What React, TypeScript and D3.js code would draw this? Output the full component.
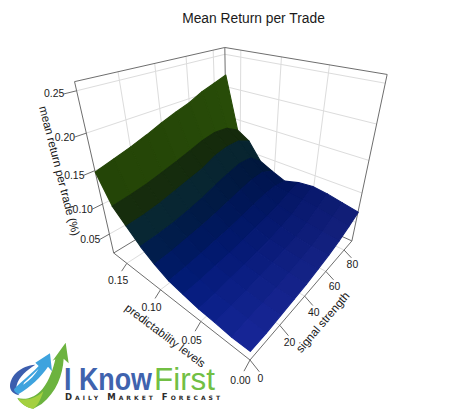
import React from "react";
import * as d3 from "d3";

const title = "Mean Return per Trade";
const predLevels = [0, 0.0172, 0.0344, 0.0516, 0.0688, 0.086, 0.1032, 0.1204, 0.1376, 0.1548, 0.172];
const signalLevels = [0, 10, 20, 30, 40, 50, 60, 70, 80, 90];
const returns = [
  [0.030, 0.030, 0.032, 0.034, 0.036, 0.040, 0.044, 0.050, 0.058, 0.067],
  [0.030, 0.032, 0.033, 0.035, 0.038, 0.041, 0.045, 0.052, 0.062, 0.072],
  [0.033, 0.034, 0.035, 0.038, 0.040, 0.044, 0.047, 0.055, 0.066, 0.077],
  [0.035, 0.036, 0.039, 0.041, 0.044, 0.047, 0.052, 0.058, 0.069, 0.080],
  [0.040, 0.041, 0.044, 0.046, 0.050, 0.054, 0.058, 0.063, 0.071, 0.077],
  [0.045, 0.047, 0.050, 0.054, 0.057, 0.062, 0.067, 0.072, 0.074, 0.070],
  [0.056, 0.058, 0.062, 0.066, 0.071, 0.077, 0.083, 0.088, 0.089, 0.079],
  [0.070, 0.072, 0.075, 0.080, 0.086, 0.094, 0.101, 0.107, 0.106, 0.089],
  [0.089, 0.091, 0.095, 0.101, 0.107, 0.113, 0.123, 0.128, 0.128, 0.118],
  [0.108, 0.111, 0.115, 0.121, 0.127, 0.134, 0.141, 0.145, 0.143, 0.131],
  [0.148, 0.155, 0.162, 0.170, 0.179, 0.187, 0.194, 0.204, 0.211, 0.218],
];
const returnTicks = [0.05, 0.10, 0.15, 0.20, 0.25];
const predTicks = [0, 0.05, 0.10, 0.15];
const signalTicks = [0, 20, 40, 60, 80];

// Camera: the three vanishing points of the box and the screen position of the near corner.
const origin = [250, 360];
const vanishP = [-248, -31];
const vanishS = [588, -35];
const vanishR = [236, 788];
const weights = [0.3768, 0.4315, -0.334];

const pScale = d3.scaleLinear().domain([0, 0.172]).range([0, 1]);
const sScale = d3.scaleLinear().domain([0, 89.5]).range([0, 1]);
const rScale = d3.scaleLinear().domain([0.0156, 0.26]).range([0, 1]);

function projectUnit(u: number, v: number, w: number): [number, number, number] {
  const [a, b, c] = weights;
  const h = 1 + a * u + b * v + c * w;
  const x = origin[0] + a * u * vanishP[0] + b * v * vanishS[0] + c * w * vanishR[0];
  const y = origin[1] + a * u * vanishP[1] + b * v * vanishS[1] + c * w * vanishR[1];
  return [x / h, y / h, a * u + b * v];
}
const project = (p: number, s: number, r: number) => projectUnit(pScale(p), sScale(s), rScale(r));
const fmt2 = d3.format(".2f");

const surfaceColor = d3
  .scaleLinear<string>()
  .domain([0, 0.3, 0.5, 0.62, 0.72, 0.8, 0.87, 0.95])
  .range(["#18289a", "#0a1e88", "#001a70", "#001a56", "#042438", "#0e2c2a", "#192e02", "#284c08"])
  .clamp(true);

const seg = (a: number[], b: number[], stroke: string, w = 1) => (
  <line x1={a[0]} y1={a[1]} x2={b[0]} y2={b[1]} stroke={stroke} strokeWidth={w} />
);

function Logo() {
  return (
    <g>
      <g transform="translate(0,330) scale(0.3333)">
        <path d="M30,168 C32,135 62,108 106,104 C82,120 56,140 50,166 C48,178 50,188 58,196 C40,192 30,182 30,168Z" fill="#3c5eae" />
        <path d="M42,178 C62,156 92,134 116,108 L106,98 L150,70 L156,124 L144,110 C122,142 92,170 56,192 C48,190 42,186 42,178Z" fill="#3ea3de" />
        <path d="M72,158 C88,144 102,130 116,116 C106,134 90,150 70,164Z" fill="#ffffff" />
        <path d="M197,38 L206,100 L191,86 C188,135 170,185 125,222 L100,236 C82,234 62,222 52,204 C80,212 108,200 128,176 C148,152 160,115 166,88 L158,92Z" fill="#6cb33f" />
        <path d="M54,206 C80,214 110,204 130,184 C122,212 110,230 100,236 C82,234 64,222 54,206Z" fill="#a4d040" />
      </g>
      <text x={64} y={390} fontFamily="'Liberation Sans Narrow','Liberation Sans'" fontWeight={700} fontSize={32} fill="#3f63ae" textLength={88} lengthAdjust="spacingAndGlyphs">I Know</text>
      <text x={154} y={390} fontFamily="'Liberation Sans'" fontSize={32} fill="#72bf44" textLength={61} lengthAdjust="spacingAndGlyphs">First</text>
      <text x={65} y={400} fontFamily="'DejaVu Sans'" fontWeight={700} fontSize={8.5} fill="#2b2b2b" style={{ fontVariant: "small-caps" }} textLength={155} lengthAdjust="spacing">Daily Market Forecast</text>
    </g>
  );
}

export default function App() {
  const gridColor = "#dcdcdc";
  const boxColor = "#6e6e6e";
  const textColor = "#1a1a1a";
  const font = "'Liberation Sans', Arial, sans-serif";

  const cells: { pts: number[][]; depth: number; fill: string }[] = [];
  for (let i = 0; i < predLevels.length - 1; i++) {
    for (let j = 0; j < signalLevels.length - 1; j++) {
      const corners = [
        project(predLevels[i], signalLevels[j], returns[i][j]),
        project(predLevels[i + 1], signalLevels[j], returns[i + 1][j]),
        project(predLevels[i + 1], signalLevels[j + 1], returns[i + 1][j + 1]),
        project(predLevels[i], signalLevels[j + 1], returns[i][j + 1]),
      ];
      const u = pScale((predLevels[i] + predLevels[i + 1]) / 2);
      const v = sScale((signalLevels[j] + signalLevels[j + 1]) / 2);
      const base = d3.rgb(surfaceColor(u));
      const fill = u > 0.9 ? base.darker(0.3 * (1 - v)) : base.darker(u < 0.7 ? 0.7 * v : 0.2 * v);
      cells.push({ pts: corners, depth: d3.mean(corners, (c) => c[2]) as number, fill: fill.formatHex() });
    }
  }
  cells.sort((a, b) => b.depth - a.depth);

  const E0 = projectUnit(1, 0, 1);
  const G0 = projectUnit(1, 1, 1);
  const F0 = projectUnit(0, 1, 1);
  const A0 = projectUnit(0, 0, 0);
  const B0 = projectUnit(1, 0, 0);
  const C0 = projectUnit(0, 1, 0);
  const D0 = projectUnit(1, 1, 0);

  const line = d3.line();

  return (
    <svg width={469} height={410} style={{ position: "absolute", left: 0, top: 0 }} fontFamily={font}>
      <rect width={469} height={410} fill="#fff" />
      <text x={253.5} y={23} textAnchor="middle" fontSize={13.8} fill={textColor}>{title}</text>

      {returnTicks.map((r) => (
        <g key={r}>
          {seg(projectUnit(1, 0, rScale(r)), projectUnit(1, 1, rScale(r)), gridColor)}
          {seg(projectUnit(1, 1, rScale(r)), projectUnit(0, 1, rScale(r)), gridColor)}
        </g>
      ))}
      {signalTicks.slice(1).map((s) => (
        <g key={s}>
          {seg(projectUnit(1, sScale(s), 0), projectUnit(1, sScale(s), 1), gridColor)}
          {seg(projectUnit(0, sScale(s), 0), projectUnit(1, sScale(s), 0), gridColor)}
        </g>
      ))}
      {predTicks.slice(1).map((p) => (
        <g key={p}>
          {seg(projectUnit(pScale(p), 1, 0), projectUnit(pScale(p), 1, 1), gridColor)}
          {seg(projectUnit(pScale(p), 0, 0), projectUnit(pScale(p), 1, 0), gridColor)}
        </g>
      ))}

      {seg(B0, D0, boxColor)}
      {seg(C0, D0, boxColor)}
      {seg(D0, G0, boxColor)}
      {seg(A0, B0, boxColor)}
      {seg(A0, C0, boxColor)}
      {seg(B0, E0, boxColor)}
      {seg(C0, F0, boxColor)}
      {seg(E0, G0, boxColor)}
      {seg(G0, F0, boxColor)}

      {cells.map((c, i) => (
        <path key={i} d={(line(c.pts.map((q) => [q[0], q[1]] as [number, number])) as string) + "Z"} fill={c.fill} stroke={c.fill} strokeWidth={1.1} strokeLinejoin="round" />
      ))}

      {returnTicks.map((r) => {
        const a = projectUnit(1, 0, rScale(r));
        const b = projectUnit(1, -0.06, rScale(r));
        return (
          <g key={r}>
            {seg(a, b, boxColor)}
            <text x={b[0] + 0.5} y={b[1] + 3.5} textAnchor="end" fontSize={10.4} fill={textColor}>{fmt2(r)}</text>
          </g>
        );
      })}
      {predTicks.map((p) => {
        const a = projectUnit(pScale(p), 0, 0);
        const b = projectUnit(pScale(p), -0.04, -0.03);
        return (
          <g key={p}>
            {seg(a, b, boxColor)}
            <text x={b[0] - 3.5} y={b[1] + 12.5} textAnchor="middle" fontSize={10.4} fill={textColor}>{fmt2(p)}</text>
          </g>
        );
      })}
      {signalTicks.map((s) => {
        const a = projectUnit(0, sScale(s), 0);
        const b = projectUnit(-0.05, sScale(s), -0.03);
        return (
          <g key={s}>
            {seg(a, b, boxColor)}
            <text x={b[0] + 1} y={b[1] + 10} textAnchor="middle" fontSize={10.4} fill={textColor}>{s}</text>
          </g>
        );
      })}

      <text transform="translate(59,171) rotate(75.6)" textAnchor="middle" dy={3.5} fontSize={11.6} fill={textColor}>mean return per trade (%)</text>
      <text transform="translate(165,336) rotate(37)" textAnchor="middle" dy={3.5} fontSize={11.6} fill={textColor}>predictability levels</text>
      <text transform="translate(323,322.5) rotate(-49.6)" textAnchor="middle" dy={3.5} fontSize={11.6} fill={textColor}>signal strength</text>

      <Logo />
    </svg>
  );
}
